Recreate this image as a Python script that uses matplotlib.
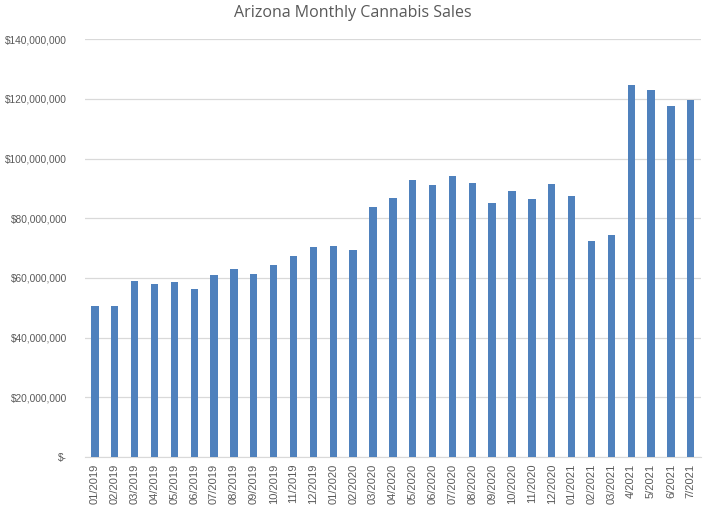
import numpy as np
import matplotlib.pyplot as plt
from matplotlib.ticker import FuncFormatter

# Datos
meses = ['01/2019', '02/2019', '03/2019', '04/2019', '05/2019', '06/2019',
         '07/2019', '08/2019', '09/2019', '10/2019', '11/2019', '12/2019',
         '01/2020', '02/2020', '03/2020', '04/2020', '05/2020', '06/2020',
         '07/2020', '08/2020', '09/2020', '10/2020', '11/2020', '12/2020',
         '01/2021', '02/2021', '03/2021', '4/2021', '5/2021', '6/2021', '7/2021']
ventas_millones = [50.6, 50.6, 59.0, 58.0, 58.6, 56.3, 61.0, 63.0, 61.3, 64.3,
                   67.3, 70.4, 70.7, 69.4, 83.8, 86.8, 92.8, 91.1, 94.1, 91.8,
                   85.1, 89.1, 86.4, 91.5, 87.4, 72.4, 74.4, 124.6, 123.0,
                   117.6, 119.6]

ventas = np.array(ventas_millones) * 1e6
gris = '#595959'

plt.rcParams['font.family'] = ['Liberation Sans', 'DejaVu Sans']

fig = plt.figure(figsize=(7.05, 5.09), dpi=100)
ax = fig.add_axes([85 / 705, (509 - 457) / 509, 615.7 / 705, (457 - 39.3) / 509])

x = np.arange(len(meses))
ax.bar(x, ventas, width=0.37, color='#4F81BD', zorder=3)

ax.set_xlim(-0.5, len(meses) - 0.5)
ax.set_ylim(0, 140e6)
ax.set_yticks(np.arange(0, 140e6 + 1, 20e6))


def formato(v, pos):
    if v == 0:
        return '$-'
    return '${:,.0f}'.format(v)


ax.yaxis.set_major_formatter(FuncFormatter(formato))
ax.set_xticks(x)
ax.set_xticklabels(meses, rotation=90)
ax.tick_params(axis='both', length=0, labelsize=8, colors=gris)
ax.tick_params(axis='y', pad=13, labelsize=7.3)
ax.tick_params(axis='x', pad=5)

ax.grid(axis='y', color='#D9D9D9', linewidth=0.9, zorder=0)
for lado in ['top', 'right', 'left']:
    ax.spines[lado].set_visible(False)
ax.spines['bottom'].set_color('#D9D9D9')

fig.text(353 / 705, 1 - 13 / 509, 'Arizona Monthly Cannabis Sales',
         ha='center', va='center', fontsize=11.5, color=gris,
         family=['Open Sans', 'DejaVu Sans'])

fig.savefig('out.png', dpi=100)
